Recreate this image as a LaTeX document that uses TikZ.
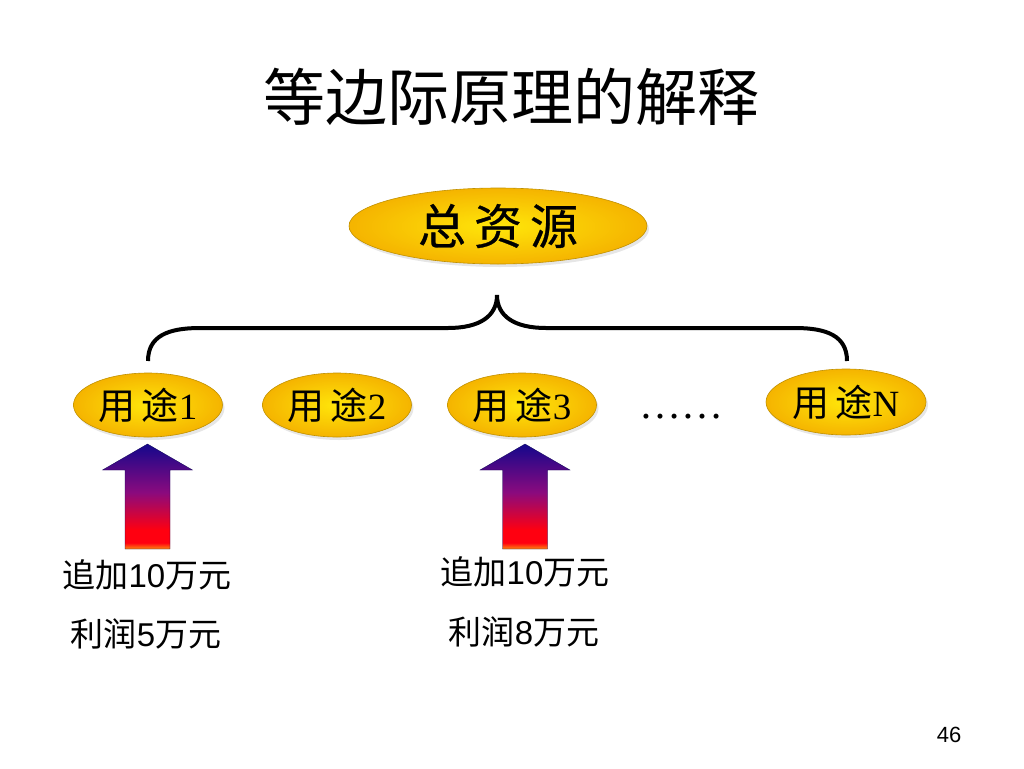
\documentclass[tikz,border=0pt]{standalone}
\usepackage{fontspec}
\setmainfont{Liberation Serif}
\newfontfamily\cjk{Noto Sans CJK SC}
\newfontfamily\cjkbf[FakeBold=0.6]{Noto Sans CJK SC}
\newfontfamily\arial{Liberation Sans}
\usepackage{tikz}
\usetikzlibrary{shapes.geometric,shadows}

\definecolor{goldin}{HTML}{FFE60A}
\definecolor{goldout}{HTML}{F5B400}
\definecolor{goldline}{HTML}{C09000}
\definecolor{arrtop}{HTML}{14088C}
\definecolor{arrmid}{HTML}{8A0A7E}
\definecolor{arrred}{HTML}{FF0010}
\definecolor{arrbot}{HTML}{FF8A10}
\pgfdeclareverticalshading{upshade}{100bp}{color(0bp)=(arrbot); color(25bp)=(arrbot);
  color(28bp)=(arrred); color(34bp)=(arrred); color(52bp)=(arrmid); color(75bp)=(arrtop); color(100bp)=(arrtop)}

\tikzset{
  oval/.style={ellipse, draw=goldline, line width=0.6pt, inner color=goldin, outer color=goldout,
    drop shadow={shadow xshift=2pt, shadow yshift=-3pt, opacity=0.2}, inner sep=0pt},
  label/.style={font=\fontsize{33}{33}\selectfont, inner sep=0pt}
}

\begin{document}
\begin{tikzpicture}[x=1pt, y=-1pt]
      \useasboundingbox (0,0) rectangle (1024,768);
      % title
      \node (title) at (511,97) {\cjk\fontsize{62}{62}\selectfont 等边际原理的解释};
      % resources
      \node[oval, minimum width=298pt, minimum height=76pt] (total) at (498,226)
        {\cjkbf\fontsize{48}{48}\selectfont 总\,资\,源};
      \foreach \n/\x in {1/148, 2/337, 3/522}
      \node[oval, minimum width=149pt, minimum height=64pt, font=\fontsize{37}{37}\selectfont] (use\n) at (\x,405)
        {{\cjk 用\,途}\n};
      \node[oval, minimum width=160pt, minimum height=66pt, font=\fontsize{37}{37}\selectfont] (useN) at (846,402)
        {{\cjk 用\,途}N};
      \node[anchor=base, font=\fontsize{42}{42}\selectfont, inner sep=0pt] (dots) at (681,418) {……};
      % brace
      \draw[line width=4pt] (148,361) .. controls (148,336) and (168,328) .. (200,328) -- (448,328)
        .. controls (480,328) and (497,316) .. (497,295)
        .. controls (497,316) and (514,328) .. (546,328) -- (795,328)
        .. controls (827,328) and (847,336) .. (847,361);
      % arrows
      \foreach \x in {147.5, 525}
      \shade[shading=upshade, draw=arrtop!60!black, line width=0.3pt]
        (\x,444) -- (\x+45,470) -- (\x+22.5,470) -- (\x+22.5,549) -- (\x-22.5,549)
        -- (\x-22.5,470) -- (\x-45,470) -- cycle;
      % amounts
      \node[label] (add1) at (147,575) {\cjk 追加{\arial 10}万元};
      \node[label] (gain1) at (146,634) {\cjk 利润{\arial 5}万元};
      \node[label] (add3) at (525,572) {\cjk 追加{\arial 10}万元};
      \node[label] (gain3) at (524,632) {\cjk 利润{\arial 8}万元};
      \node[font=\arial\fontsize{22}{22}\selectfont] (page) at (949,735) {46};
    \end{tikzpicture}
\end{document}
